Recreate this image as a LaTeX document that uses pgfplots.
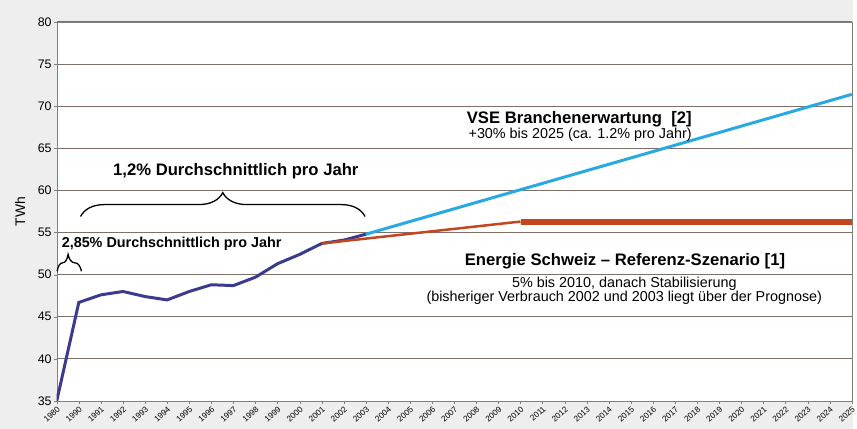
\documentclass[border=0pt]{standalone}
\usepackage{pgfplots}
\pgfplotsset{compat=1.18}
\usepackage{fontspec}
\setmainfont{Liberation Sans}
\usetikzlibrary{decorations.pathreplacing}
\definecolor{navy}{HTML}{3B3A8E}
\definecolor{sky}{HTML}{29A9E1}
\definecolor{rust}{HTML}{C2461E}
\definecolor{gridc}{HTML}{7E7068}
\definecolor{bg}{HTML}{EEEEEE}
\begin{document}
\begin{tikzpicture}
\fill[bg] (-57bp,-28bp) rectangle (800bp,403bp);
\begin{axis}[at={(0,0)},anchor=south west, scale only axis, width=799bp, height=381bp,
  /pgf/number format/assume math mode=true,
  xmin=0,xmax=36,ymin=35,ymax=80,
  xtick={0,...,36},
  xticklabels={1980,1990,1991,1992,1993,1994,1995,1996,1997,1998,1999,2000,2001,2002,2003,2004,2005,2006,2007,2008,2009,2010,2011,2012,2013,2014,2015,2016,2017,2018,2019,2020,2021,2022,2023,2024,2025},
  ytick={35,40,...,80},
  ymajorgrids, grid style={gridc, line width=0.8bp},
  axis line style={gray}, tick style={gray}, tick align=outside, major tick length=3bp,
  xtick pos=left, ytick pos=left,
  x tick label style={rotate=42, anchor=north east, font=\fontsize{8.3}{9}\selectfont, inner sep=1bp},
  y tick label style={font=\fontsize{12.5}{14}\selectfont, inner sep=2bp},
  ylabel={TWh}, ylabel style={font=\fontsize{14}{16}\selectfont, at={(axis description cs:-0.046,0.5)}, anchor=center},
  axis background/.style={fill=white},
]
\addplot[navy, line width=3bp] coordinates {(0,35) (1,46.7) (2,47.6) (3,48.0) (4,47.4) (5,47.0) (6,48.0) (7,48.8) (8,48.7) (9,49.7) (10,51.3) (11,52.4) (12,53.7) (13,54.1) (14,54.8)};
\addplot[rust, line width=2.5bp] coordinates {(12,53.7) (21,56.3)};
\addplot[rust, line width=6bp] coordinates {(21,56.3) (36,56.3)};
\addplot[sky, line width=3bp] coordinates {(14,54.8) (36,71.4)};

\draw[decorate, decoration={brace, amplitude=24bp}, line width=1.3bp] (axis cs:1.08,56.9) -- (axis cs:13.96,56.9);
\draw[decorate, decoration={brace, amplitude=17bp, aspect=0.45}, line width=1.3bp] (axis cs:0.02,50.4) -- (axis cs:1.12,50.4);

\node[font=\fontsize{16.8}{19}\selectfont\bfseries] at (axis cs:8.11,62.3) {1,2\% Durchschnittlich pro Jahr};
\node[font=\fontsize{14.5}{17}\selectfont\bfseries, anchor=west, inner sep=0pt] at (axis cs:0.22,53.7) {2,85\% Durchschnittlich pro Jahr};
\node[font=\fontsize{16.8}{19}\selectfont\bfseries] at (axis cs:23.66,68.4) {VSE Branchenerwartung\ \ [2]};
\node[font=\fontsize{14.5}{17}\selectfont] at (axis cs:23.7,66.6) {+30\% bis 2025 (ca. 1.2\% pro Jahr)};
\node[font=\fontsize{16.8}{19}\selectfont\bfseries] at (axis cs:25.73,51.6) {Energie Schweiz -- Referenz-Szenario [1]};
\node[font=\fontsize{14.5}{17}\selectfont] at (axis cs:25.7,48.9) {5\% bis 2010, danach Stabilisierung};
\node[font=\fontsize{14.5}{17}\selectfont] at (axis cs:25.7,47.2) {(bisheriger Verbrauch 2002 und 2003 liegt über der Prognose)};
\end{axis}
\end{tikzpicture}
\end{document}
